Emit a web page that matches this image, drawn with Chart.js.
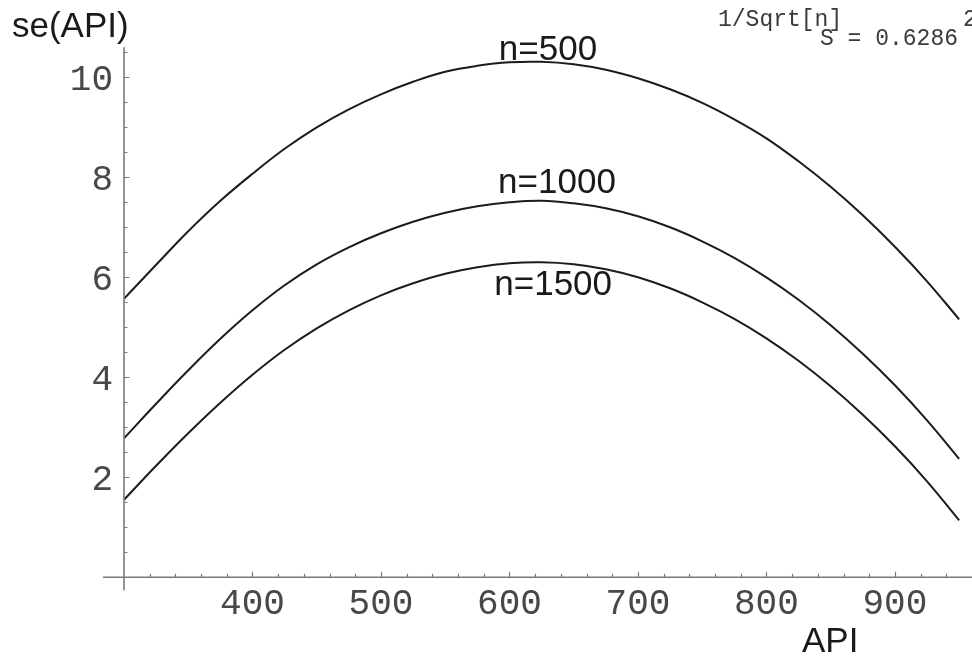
<!DOCTYPE html>
<html>
<head>
<meta charset="utf-8">
<script src="https://cdn.jsdelivr.net/npm/chart.js@4/dist/chart.umd.min.js"></script>
<style>
  html, body { margin: 0; padding: 0; background: #ffffff; }
  #wrap { width: 972px; height: 656px; overflow: hidden; }
</style>
</head>
<body>
<div id="wrap"><canvas id="c" width="972" height="656"></canvas></div>
<script>
// API values where the standard error is evaluated
const apiValues = [300, 325, 350, 375, 400, 425, 450, 475, 500, 525, 550, 575, 600,
                   625, 650, 675, 700, 725, 750, 775, 800, 825, 850, 875, 900, 925, 950];

// se(API) for each sample size
const seN500  = [5.57, 6.25, 6.92, 7.53, 8.07, 8.57, 9.00, 9.36, 9.66, 9.91, 10.11, 10.23, 10.30,
                 10.31, 10.26, 10.15, 9.98, 9.76, 9.49, 9.16, 8.78, 8.32, 7.81, 7.24, 6.61, 5.92, 5.16];
const seN1000 = [2.78, 3.47, 4.14, 4.77, 5.34, 5.84, 6.26, 6.60, 6.88, 7.11, 7.29, 7.42, 7.50,
                 7.53, 7.48, 7.38, 7.22, 7.00, 6.72, 6.39, 6.00, 5.55, 5.04, 4.47, 3.84, 3.14, 2.37];
const seN1500 = [1.55, 2.23, 2.88, 3.49, 4.05, 4.55, 4.98, 5.34, 5.64, 5.88, 6.07, 6.20, 6.28,
                 6.30, 6.26, 6.16, 6.00, 5.78, 5.50, 5.17, 4.78, 4.33, 3.82, 3.25, 2.62, 1.92, 1.14];

const seriesNames = ['n=500', 'n=1000', 'n=1500'];

// tick labels
const xTickLabels = [400, 500, 600, 700, 800, 900];
const yTickLabels = [2, 4, 6, 8, 10];

const toPoints = ys => apiValues.map((x, i) => ({ x: x, y: ys[i] }));

const LINE = '#1c1c1c';
const AXIS = '#7a7a7a';
const MONO = '"Liberation Mono", "DejaVu Sans Mono", monospace';
const SANS = '"Liberation Sans", Arial, sans-serif';

// Mathematica-style crossing axes, ticks, labels and annotations
const axesPlugin = {
  id: 'crossAxes',
  afterDatasetsDraw(chart, args, opts) {
    const ctx = chart.ctx;
    const xs = chart.scales.x, ys = chart.scales.y;
    const X = v => xs.getPixelForValue(v);
    const Y = v => ys.getPixelForValue(v);
    const x0 = X(300), y0 = Y(0);

    ctx.save();
    ctx.strokeStyle = AXIS;
    ctx.lineWidth = 1.6;
    // axis lines
    ctx.beginPath();
    ctx.moveTo(x0 - 21, y0); ctx.lineTo(972, y0);
    ctx.moveTo(x0, y0 + 13); ctx.lineTo(x0, Y(10.6));
    ctx.stroke();

    // x ticks
    ctx.lineWidth = 1.2;
    ctx.beginPath();
    for (let v = 320; v <= 940; v += 20) {
      const major = v % 100 === 0;
      const px = Math.round(X(v)) + 0.5;
      ctx.moveTo(px, y0); ctx.lineTo(px, y0 - (major ? 5.5 : 3.5));
    }
    // y ticks
    for (let k = 1; k <= 21; k++) {
      const v = k * 0.5;
      const major = (k % 4 === 0);
      const py = Math.round(Y(v)) + 0.5;
      ctx.moveTo(x0, py); ctx.lineTo(x0 + (major ? 5.5 : 3.5), py);
    }
    ctx.stroke();

    // tick labels
    ctx.fillStyle = '#484848';
    ctx.font = '36px ' + MONO;
    ctx.textAlign = 'center';
    ctx.textBaseline = 'alphabetic';
    xTickLabels.forEach(v => ctx.fillText(String(v), X(v), y0 + 37));
    ctx.textAlign = 'right';
    yTickLabels.forEach(v => ctx.fillText(String(v), x0 - 11, Y(v) + 12.5));

    // axis titles
    ctx.fillStyle = '#1a1a1a';
    ctx.font = '35px ' + SANS;
    ctx.textAlign = 'left';
    ctx.fillText('se(API)', 12, 37);
    ctx.fillText('API', 802, 652);

    // curve labels
    ctx.textAlign = 'center';
    opts.labels.forEach(l => ctx.fillText(l.text, X(l.x), Y(l.y)));

    // fit annotation
    ctx.fillStyle = '#3a3a3a';
    ctx.font = '23px ' + MONO;
    ctx.textAlign = 'left';
    ctx.fillText('1/Sqrt[n]', 718, 26);
    ctx.fillText('2', 963, 26);
    ctx.textAlign = 'right';
    ctx.fillText('S = 0.6286', 958, 45);
    ctx.restore();
  }
};

const lineStyle = {
  borderColor: LINE,
  borderWidth: 2,
  pointRadius: 0,
  fill: false,
  tension: 0.4
};

new Chart(document.getElementById('c'), {
  type: 'line',
  data: {
    datasets: [
      Object.assign({ label: seriesNames[0], data: toPoints(seN500) }, lineStyle),
      Object.assign({ label: seriesNames[1], data: toPoints(seN1000) }, lineStyle),
      Object.assign({ label: seriesNames[2], data: toPoints(seN1500) }, lineStyle)
    ]
  },
  options: {
    responsive: false,
    devicePixelRatio: 1,
    animation: false,
    events: [],
    layout: { padding: { left: 124, right: 0, top: 47.3, bottom: 78.7 } },
    scales: {
      x: { type: 'linear', min: 300, max: 960, display: false },
      y: { type: 'linear', min: 0, max: 10.6, display: false }
    },
    plugins: {
      legend: { display: false },
      tooltip: { enabled: false },
      crossAxes: {
        labels: [
          { text: seriesNames[0], x: 630, y: 10.35 },
          { text: seriesNames[1], x: 637, y: 7.68 },
          { text: seriesNames[2], x: 634, y: 5.65 }
        ]
      }
    }
  },
  plugins: [axesPlugin]
});
</script>
</body>
</html>
